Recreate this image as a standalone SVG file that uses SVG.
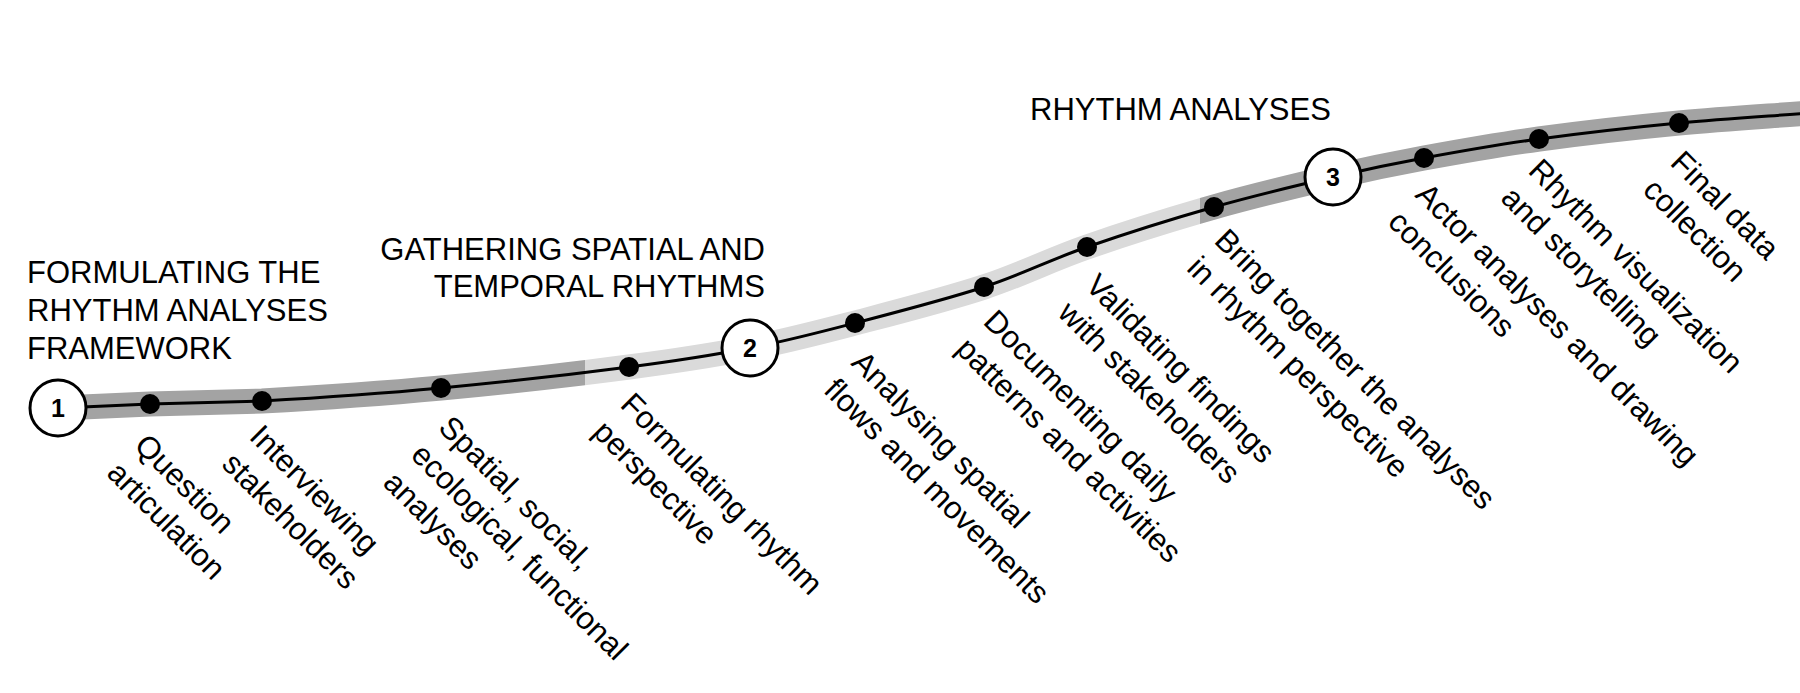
<svg xmlns="http://www.w3.org/2000/svg" width="1800" height="693" viewBox="0 0 1800 693">
<style>
.band{fill:none;stroke-width:25;stroke-linecap:butt}
.line{fill:none;stroke:#000;stroke-width:3}
.dot{fill:#000}
.ring{fill:#fff;stroke:#000;stroke-width:3}
.num{font-family:"Liberation Sans",Arial,sans-serif;font-size:25px;font-weight:bold;text-anchor:middle;fill:#000}
.head{font-family:"Liberation Sans",Arial,sans-serif;font-size:31px;fill:#000}
.lab{font-family:"Liberation Sans",Arial,sans-serif;font-size:31.3px;fill:#000}
</style>
<defs>
<path id="curve" d="M58,408 C88.7,406.7 116,405.2 150,404 C184,402.8 213.5,402.5 262,401 C310.5,398.3 379.8,393.7 441,388 C502.2,382.3 577.5,373.7 629,367 C680.5,360.3 712.3,355.3 750,348 C787.7,340.7 816,333.2 855,323 C894,312.8 945.3,299.7 984,287 C1022.7,274.3 1048.7,260.3 1087,247 C1125.3,233.7 1173,218.7 1214,207 C1255,195.3 1298,185.2 1333,177 C1368,168.8 1389.7,164.3 1424,158 C1458.3,151.7 1496.5,144.8 1539,139 C1581.5,133.2 1633.8,127.3 1679,123 C1724.2,118.7 1766.3,116.3 1810,113"/>
<clipPath id="clipDark"><rect x="0" y="0" width="585" height="693"/><rect x="1200" y="0" width="700" height="693"/></clipPath>
<clipPath id="clipLight"><rect x="585" y="0" width="615" height="693"/></clipPath>
</defs>
<rect width="1800" height="693" fill="#fff"/>
<g id="connectors">
<use href="#curve" class="band" stroke="#a3a3a3" clip-path="url(#clipDark)"/>
<use href="#curve" class="band" stroke="#dadada" clip-path="url(#clipLight)"/>
<use href="#curve" class="line"/>
</g>
<g id="headings">
<text class="head" x="27" y="283">FORMULATING THE</text>
<text class="head" x="27" y="321">RHYTHM ANALYSES</text>
<text class="head" x="27" y="359">FRAMEWORK</text>
<text class="head" x="765" y="260" text-anchor="end">GATHERING SPATIAL AND</text>
<text class="head" x="765" y="297" text-anchor="end">TEMPORAL RHYTHMS</text>
<text class="head" x="1030" y="120">RHYTHM ANALYSES</text>
</g>
<g id="milestone1"><circle class="ring" cx="58" cy="408" r="28"/><text class="num" x="58" y="417">1</text></g>
<g id="milestone2"><circle class="ring" cx="750" cy="348" r="28"/><text class="num" x="750" y="357">2</text></g>
<g id="milestone3"><circle class="ring" cx="1333" cy="177" r="28"/><text class="num" x="1333" y="186">3</text></g>
<g id="step1"><circle class="dot" cx="150" cy="404" r="10"/><text class="lab" transform="translate(133,447) rotate(45)"><tspan x="0" y="0">Question</tspan><tspan x="0" dy="39">articulation</tspan></text></g>
<g id="step2"><circle class="dot" cx="262" cy="401" r="10"/><text class="lab" transform="translate(248,438) rotate(45)"><tspan x="0" y="0">Interviewing</tspan><tspan x="0" dy="39">stakeholders</tspan></text></g>
<g id="step3"><circle class="dot" cx="441" cy="388" r="10"/><text class="lab" transform="translate(437,429) rotate(45)"><tspan x="0" y="0">Spatial, social,</tspan><tspan x="0" dy="39">ecological, functional</tspan><tspan x="0" dy="39">analyses</tspan></text></g>
<g id="step4"><circle class="dot" cx="629" cy="367" r="10"/><text class="lab" transform="translate(619,406) rotate(45)"><tspan x="0" y="0">Formulating rhythm</tspan><tspan x="0" dy="39">perspective</tspan></text></g>
<g id="step5"><circle class="dot" cx="855" cy="323" r="10"/><text class="lab" transform="translate(850,364) rotate(45)"><tspan x="0" y="0">Analysing spatial</tspan><tspan x="0" dy="39">flows and movements</tspan></text></g>
<g id="step6"><circle class="dot" cx="984" cy="287" r="10"/><text class="lab" transform="translate(982,323) rotate(45)"><tspan x="0" y="0">Documenting daily</tspan><tspan x="0" dy="39">patterns and activities</tspan></text></g>
<g id="step7"><circle class="dot" cx="1087" cy="247" r="10"/><text class="lab" transform="translate(1084,287) rotate(45)"><tspan x="0" y="0">Validating findings</tspan><tspan x="0" dy="39">with stakeholders</tspan></text></g>
<g id="step8"><circle class="dot" cx="1214" cy="207" r="10"/><text class="lab" transform="translate(1213,242) rotate(45)"><tspan x="0" y="0">Bring together the analyses</tspan><tspan x="0" dy="39">in rhythm perspective</tspan></text></g>
<g id="step9"><circle class="dot" cx="1424" cy="158" r="10"/><text class="lab" transform="translate(1414,196) rotate(45)"><tspan x="0" y="0">Actor analyses and drawing</tspan><tspan x="0" dy="39">conclusions</tspan></text></g>
<g id="step10"><circle class="dot" cx="1539" cy="139" r="10"/><text class="lab" transform="translate(1527,172) rotate(45)"><tspan x="0" y="0">Rhythm visualization</tspan><tspan x="0" dy="39">and storytelling</tspan></text></g>
<g id="step11"><circle class="dot" cx="1679" cy="123" r="10"/><text class="lab" transform="translate(1669,164) rotate(45)"><tspan x="0" y="0">Final data</tspan><tspan x="0" dy="39">collection</tspan></text></g>
</svg>
